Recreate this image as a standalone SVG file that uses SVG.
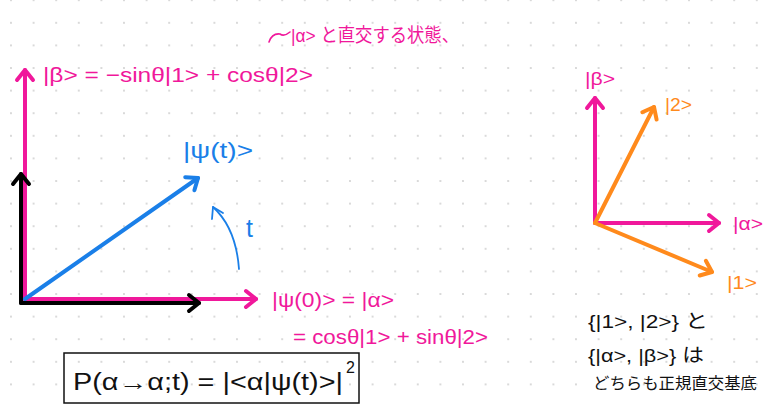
<svg xmlns="http://www.w3.org/2000/svg" width="765" height="406" viewBox="0 0 765 406">
<defs>
<pattern id="dots" x="11" y="0.2" width="22.6" height="22.6" patternUnits="userSpaceOnUse">
<circle cx="0" cy="0" r="0.9" fill="#c9c9c9"/><circle cx="22.6" cy="0" r="0.9" fill="#c9c9c9"/><circle cx="0" cy="22.6" r="0.9" fill="#c9c9c9"/><circle cx="22.6" cy="22.6" r="0.9" fill="#c9c9c9"/>
</pattern>
<marker id="hp" viewBox="-12 -11 14 22" refX="0" refY="0" markerWidth="14" markerHeight="22" markerUnits="userSpaceOnUse" orient="auto" overflow="visible"><path d="M-10,-8 L0,0 L-10,8" fill="none" stroke="#f0189b" stroke-width="4" stroke-linecap="round" stroke-linejoin="round"/></marker>
<marker id="hk" viewBox="-12 -11 14 22" refX="0" refY="0" markerWidth="14" markerHeight="22" markerUnits="userSpaceOnUse" orient="auto" overflow="visible"><path d="M-10,-8 L0,0 L-10,8" fill="none" stroke="#000" stroke-width="4" stroke-linecap="round" stroke-linejoin="round"/></marker>
<marker id="hb" viewBox="-12 -11 14 22" refX="0" refY="0" markerWidth="14" markerHeight="22" markerUnits="userSpaceOnUse" orient="auto" overflow="visible"><path d="M-10,-8 L0,0 L-10,8" fill="none" stroke="#1a7fe8" stroke-width="4" stroke-linecap="round" stroke-linejoin="round"/></marker>
<marker id="ho" viewBox="-12 -11 14 22" refX="0" refY="0" markerWidth="14" markerHeight="22" markerUnits="userSpaceOnUse" orient="auto" overflow="visible"><path d="M-10,-8 L0,0 L-10,8" fill="none" stroke="#ff8a1c" stroke-width="4" stroke-linecap="round" stroke-linejoin="round"/></marker>
</defs>
<style>
.ax{fill:none;stroke-width:4;stroke-linecap:round}
.p{stroke:#f0189b}.k{stroke:#000}.b{stroke:#1a7fe8}.o{stroke:#ff8a1c}
text{font-family:"Liberation Sans","Noto Sans CJK JP",sans-serif}
.jp{font-family:"Noto Sans CJK JP",sans-serif}
.tp{fill:#f0189b}.tb{fill:#1a7fe8}.to{fill:#ff8a1c}.tk{fill:#111}
</style>
<rect width="765" height="406" fill="#fff"/>
<rect width="765" height="406" fill="url(#dots)"/>

<g id="connectors">
<line class="ax p" x1="25" y1="300" x2="25" y2="70" marker-end="url(#hp)"/>
<line class="ax k" x1="21" y1="303" x2="21" y2="174" marker-end="url(#hk)"/>
<line class="ax p" x1="25" y1="299" x2="256" y2="299" marker-end="url(#hp)"/>
<line class="ax k" x1="21" y1="303" x2="199" y2="303" marker-end="url(#hk)"/>
<line class="ax b" x1="25" y1="299" x2="198" y2="178" marker-end="url(#hb)"/>
<path d="M239,269 Q236,228 213,207" fill="none" stroke="#1a7fe8" stroke-width="1.8" stroke-linecap="round"/>
<polyline points="212,219 213,207 223,213" fill="none" stroke="#1a7fe8" stroke-width="1.8" stroke-linecap="round" stroke-linejoin="round"/>
<path d="M269,42 Q272,33 280,34 Q284,37 290,32" fill="none" stroke="#f0189b" stroke-width="1.6" stroke-linecap="round"/>
<line class="ax p" x1="595" y1="223" x2="595" y2="98" marker-end="url(#hp)"/>
<line class="ax p" x1="595" y1="223" x2="719" y2="223" marker-end="url(#hp)"/>
<line class="ax o" x1="595" y1="223" x2="654" y2="107" marker-end="url(#ho)"/>
<line class="ax o" x1="595" y1="223" x2="712" y2="272" marker-end="url(#ho)"/>
</g>

<g id="beta-label"><text class="tp" x="43" y="82" font-size="21" textLength="270" lengthAdjust="spacingAndGlyphs">|β&gt; = −sinθ|1&gt; + cosθ|2&gt;</text></g>
<g id="note-orth"><text class="tp" x="291" y="42" font-size="19" textLength="168" lengthAdjust="spacingAndGlyphs">|α&gt; と直交する状態、</text></g>
<g id="psi-t"><text class="tb" x="183" y="158" font-size="22" textLength="70" lengthAdjust="spacingAndGlyphs">|ψ(t)&gt;</text></g>
<g id="t-label"><text class="tb" x="246" y="237" font-size="25">t</text></g>
<g id="psi-0"><text class="tp" x="272" y="307" font-size="21" textLength="122" lengthAdjust="spacingAndGlyphs">|ψ(0)&gt; = |α&gt;</text></g>
<g id="alpha-expand"><text class="tp" x="293" y="344" font-size="20" textLength="195" lengthAdjust="spacingAndGlyphs">= cosθ|1&gt; + sinθ|2&gt;</text></g>
<g id="prob-box">
<rect x="64" y="353" width="295" height="50" fill="none" stroke="#111" stroke-width="1.5"/>
<text class="tk" x="73" y="390" font-size="23" textLength="270" lengthAdjust="spacingAndGlyphs">P(α→α;t) = |&lt;α|ψ(t)&gt;|</text>
<text class="tk" x="346" y="373" font-size="16">2</text>
</g>
<g id="r-beta"><text class="tp" x="585" y="85" font-size="19" textLength="30" lengthAdjust="spacingAndGlyphs">|β&gt;</text></g>
<g id="r-2"><text class="to" x="665" y="111" font-size="19" textLength="27" lengthAdjust="spacingAndGlyphs">|2&gt;</text></g>
<g id="r-alpha"><text class="tp" x="733" y="230" font-size="19" textLength="30" lengthAdjust="spacingAndGlyphs">|α&gt;</text></g>
<g id="r-1"><text class="to" x="727" y="289" font-size="19" textLength="30" lengthAdjust="spacingAndGlyphs">|1&gt;</text></g>
<g id="basis-note">
<text class="tk" x="588" y="328" font-size="19" textLength="120" lengthAdjust="spacingAndGlyphs">{|1&gt;, |2&gt;} と</text>
<text class="tk" x="588" y="362" font-size="19" textLength="116" lengthAdjust="spacingAndGlyphs">{|α&gt;, |β&gt;} は</text>
<text class="tk jp" x="593" y="389" font-size="16" textLength="164" lengthAdjust="spacingAndGlyphs">どちらも正規直交基底</text>
</g>
</svg>
